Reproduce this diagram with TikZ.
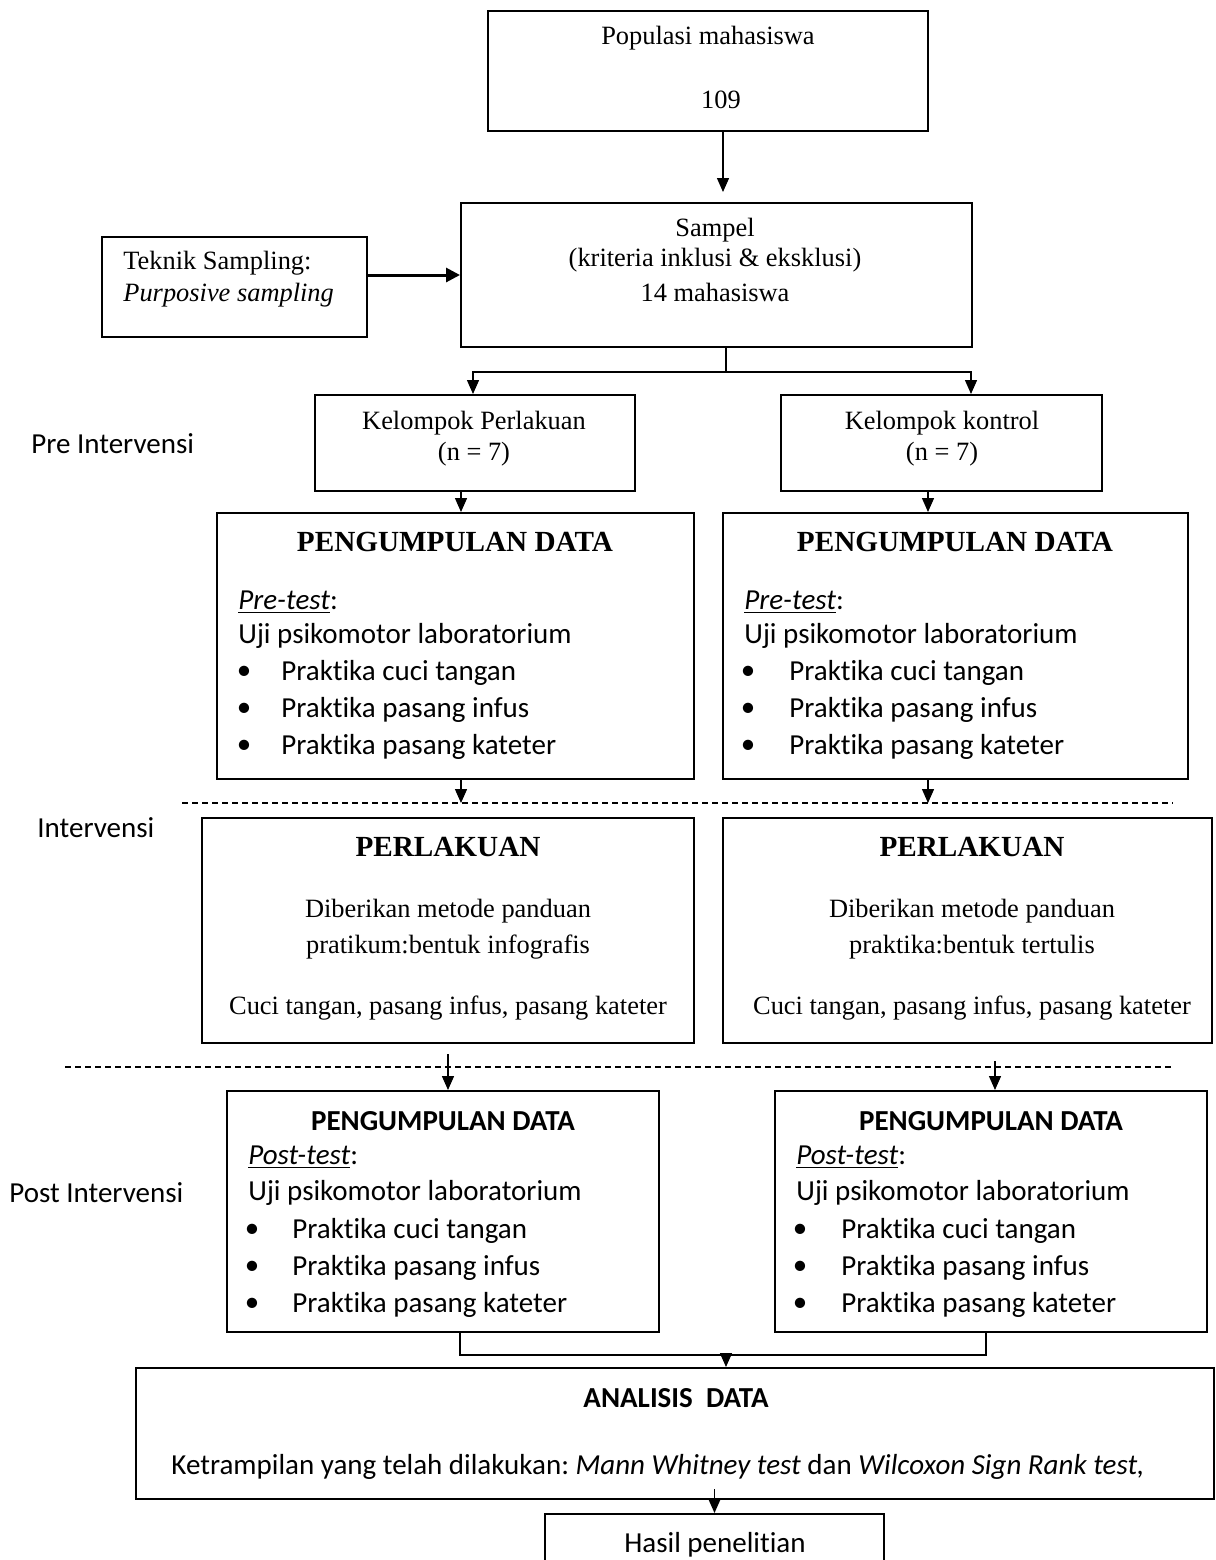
\documentclass[tikz,border=0pt]{standalone}
\usepackage{fontspec}
\setmainfont{Liberation Serif}
\newfontfamily\carlito[Ligatures=NoCommon]{Carlito}
\usetikzlibrary{arrows.meta}
\frenchspacing

\begin{document}
\begin{tikzpicture}[x=0.5pt,y=-0.5pt,
  box/.style={draw, line width=1pt, inner sep=0pt},
  serif/.style={font=\fontsize{13.2}{15}\selectfont, inner sep=0pt},
  serifbold/.style={font=\fontsize{14.6}{17}\selectfont\bfseries, inner sep=0pt},
  sans/.style={font=\carlito\fontsize{14.5}{17}\selectfont, inner sep=0pt},
  sansbold/.style={font=\carlito\fontsize{14.5}{17}\selectfont\bfseries, inner sep=0pt},
  arr/.style={-{Triangle[length=7pt,width=6pt]}, line width=0.7pt},
  bigarr/.style={-{Triangle[length=7pt,width=7pt]}, line width=1.5pt},
  sep/.style={dash pattern=on 3pt off 2pt, line width=1pt}]
\useasboundingbox (0,0) rectangle (1216,1560);

% boxes
\node[box, minimum width=220pt, minimum height=60pt] (pop) at (708,71) {};
\node[box, minimum width=255.5pt, minimum height=72pt] (smp) at (716.5,275) {};
\node[box, minimum width=132.5pt, minimum height=50pt] (tek) at (234.5,287) {};
\node[box, minimum width=160pt, minimum height=48pt] (kp) at (475,443) {};
\node[box, minimum width=160.5pt, minimum height=48pt] (kk) at (941.5,443) {};
\node[box, minimum width=238.5pt, minimum height=133pt] (pd1) at (455.5,646) {};
\node[box, minimum width=232.5pt, minimum height=133pt] (pd2) at (955.5,646) {};
\node[box, minimum width=246pt, minimum height=112.5pt] (pl1) at (448,930.5) {};
\node[box, minimum width=244.5pt, minimum height=112.5pt] (pl2) at (967.5,930.5) {};
\node[box, minimum width=216pt, minimum height=120.5pt] (post1) at (443,1211.5) {};
\node[box, minimum width=216pt, minimum height=120.5pt] (post2) at (991,1211.5) {};
\node[box, minimum width=539pt, minimum height=65.5pt] (an) at (675,1433.5) {};
\node[box, minimum width=169.5pt, minimum height=43pt] (hasil) at (714.5,1557) {};

% texts
\node[serif] (popt) at (708,38) {Populasi mahasiswa};
\node[serif] (popn) at (721,100) {109};
\node[serif] (smp1) at (715,230) {Sampel};
\node[serif] (smp2) at (715,260) {(kriteria inklusi \& eksklusi)};
\node[serif] (smp3) at (715,292) {14 mahasiswa};
\node[serif, anchor=west] (tek1) at (123,263) {Teknik Sampling:};
\node[serif, anchor=west] (tek2) at (123,295) {\textit{Purposive sampling}};
\node[serif] (kp1) at (474,423) {Kelompok Perlakuan};
\node[serif] (kp2) at (474,454) {(n = 7)};
\node[serif] (kk1) at (942,423) {Kelompok kontrol};
\node[serif] (kk2) at (942,454) {(n = 7)};

\node[sans, anchor=west] (lpre) at (31,444) {Pre Intervensi};
\node[sans, anchor=west] (lint) at (37,828) {Intervensi};
\node[sans, anchor=west] (lpost) at (9,1193) {Post Intervensi};

\node[serifbold] (pd1h) at (455,542) {PENGUMPULAN DATA};
\node[sans, anchor=west] (pd1a) at (238,602) {\underline{\textit{Pre-test}}:};
\node[sans, anchor=west] (pd1b) at (238,636) {Uji psikomotor laboratorium};
\node[serifbold] (pd2h) at (955,542) {PENGUMPULAN DATA};
\node[sans, anchor=west] (pd2a) at (744,602) {\underline{\textit{Pre-test}}:};
\node[sans, anchor=west] (pd2b) at (744,636) {Uji psikomotor laboratorium};
\foreach \yy/\txt in {673/cuci tangan, 710/pasang infus, 747/pasang kateter}{
  \node[sans] at (244,\yy) {\textbullet};
  \node[sans, anchor=west] at (281,\yy) {Praktika \txt};
  \node[sans] at (748,\yy) {\textbullet};
  \node[sans, anchor=west] at (789,\yy) {Praktika \txt};
}

\node[serifbold] (pl1h) at (448,847) {PERLAKUAN};
\node[serif] (pl1a) at (448,911) {Diberikan metode panduan};
\node[serif] (pl1b) at (448,947) {pratikum:bentuk infografis};
\node[serif] (pl1c) at (448,1008) {Cuci tangan, pasang infus, pasang kateter};
\node[serifbold] (pl2h) at (972,847) {PERLAKUAN};
\node[serif] (pl2a) at (972,911) {Diberikan metode panduan};
\node[serif] (pl2b) at (972,947) {praktika:bentuk tertulis};
\node[serif] (pl2c) at (972,1008) {Cuci tangan, pasang infus, pasang kateter};

\node[sansbold] (po1h) at (443,1121) {PENGUMPULAN DATA};
\node[sans, anchor=west] (po1a) at (248,1157) {\underline{\textit{Post-test}}:};
\node[sans, anchor=west] (po1b) at (248,1193) {Uji psikomotor laboratorium};
\node[sansbold] (po2h) at (991,1121) {PENGUMPULAN DATA};
\node[sans, anchor=west] (po2a) at (796,1157) {\underline{\textit{Post-test}}:};
\node[sans, anchor=west] (po2b) at (796,1193) {Uji psikomotor laboratorium};
\foreach \yy/\txt in {1231/cuci tangan, 1268/pasang infus, 1305/pasang kateter}{
  \node[sans] at (252,\yy) {\textbullet};
  \node[sans, anchor=west] at (292,\yy) {Praktika \txt};
  \node[sans] at (800,\yy) {\textbullet};
  \node[sans, anchor=west] at (841,\yy) {Praktika \txt};
}

\node[sansbold] (anh) at (676,1398) {ANALISIS\ \ DATA};
\node[sans] (ant) at (658,1467) {Ketrampilan yang telah dilakukan: \textit{Mann Whitney test} dan \textit{Wilcoxon Sign Rank test,}};
\node[sans] (hast) at (715,1545) {Hasil penelitian};

% dashed separators
\coordinate (d1l) at (182,803);
\coordinate (d1r) at (1173,803);
\coordinate (d2l) at (65,1067);
\coordinate (d2r) at (1173,1067);
\draw[sep] (d1l) -- (d1r);
\draw[sep] (d2l) -- (d2r);

% connectors
\draw[arr, shorten >=5pt] ([xshift=7.5pt]pop.south) -- ([xshift=7.5pt]pop.south |- smp.north);
\draw[bigarr] ([yshift=6pt]tek.east) -- ([yshift=6pt]tek.east -| smp.west);
\coordinate (split) at (726,372);
\draw[line width=0.7pt] ([xshift=4.75pt]smp.south) -- (split);
\draw[arr] (split) -| ([xshift=-1pt]kp.north);
\draw[arr] (split) -| ([xshift=14.75pt]kk.north);
\draw[arr] ([xshift=-7pt]kp.south) -- ([xshift=-7pt]kp.south |- pd1.north);
\draw[arr] ([xshift=-6.75pt]kk.south) -- ([xshift=-6.75pt]kk.south |- pd2.north);
\draw[arr] ([xshift=2.75pt]pd1.south) -- ([xshift=2.75pt]pd1.south |- d1l);
\draw[arr] ([xshift=-13.75pt]pd2.south) -- ([xshift=-13.75pt]pd2.south |- d1l);
\draw[arr, shorten <=5pt] (pl1.south) -- (pl1.south |- post1.north);
\draw[arr, shorten <=8.5pt] ([xshift=13.75pt]pl2.south) -- ([xshift=13.75pt]pl2.south |- post2.north);
\coordinate (mrg) at (726,1355);
\draw[line width=0.7pt] ([xshift=8.5pt]post1.south) |- (mrg) -| ([xshift=-2.5pt]post2.south);
\draw[arr] (mrg) -- (mrg |- an.north);
\draw[arr] (hasil.north |- an.south) ++(0,-11) -- (hasil.north);
\end{tikzpicture}
\end{document}
